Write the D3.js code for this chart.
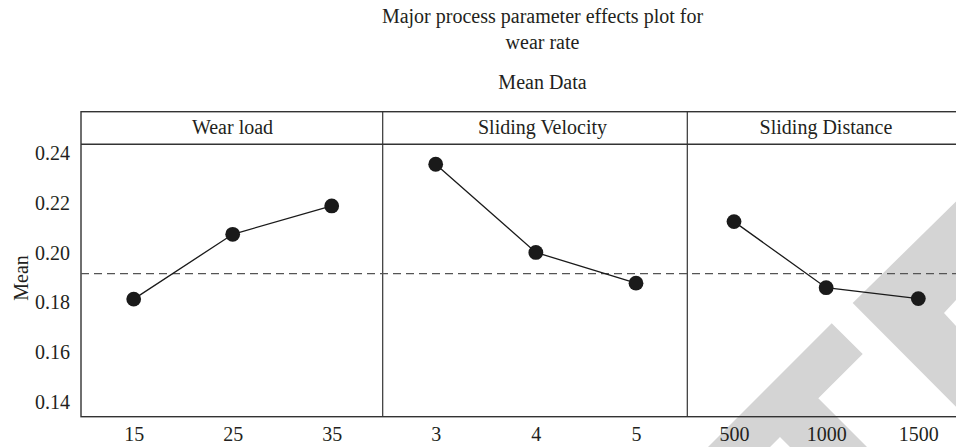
<!DOCTYPE html>
<html><head><meta charset="utf-8">
<script src="https://cdn.jsdelivr.net/npm/d3@7"></script>
<style>html,body{margin:0;padding:0;background:#fff;overflow:hidden}</style>
</head><body>
<svg id="chart" width="956" height="447"></svg>
<script>
// ---------------- data ----------------
const titleLines = ["Major process parameter effects plot for", "wear rate"];
const subtitle = "Mean Data";
const yLabel = "Mean";
const factors = ["Wear load", "Sliding Velocity", "Sliding Distance"];
const wearLoadLevels = ["15", "25", "35"];
const wearLoadMeans = [0.1813, 0.2074, 0.2188];
const velocityLevels = ["3", "4", "5"];
const velocityMeans = [0.2356, 0.2001, 0.1877];
const distanceLevels = ["500", "1000", "1500"];
const distanceMeans = [0.2125, 0.1859, 0.1815];
const grandMean = 0.1916;
const yTicks = [0.14, 0.16, 0.18, 0.20, 0.22, 0.24];

// ---------------- layout ----------------
const W = 956, H = 447;
const frameTop = 111.7, headerBottom = 144.3, plotBottom = 416.7;
const panelEdges = [81, 382.7, 687.3, 967];
const pointRanges = [[133.7, 331.7], [435.7, 636], [734, 918.3]];
const headerCenters = [232.5, 542.5, 826];
const font = "'Liberation Serif', 'Times New Roman', serif";
const ink = "#231f20";

const panels = [
  {name: factors[0], levels: wearLoadLevels, means: wearLoadMeans},
  {name: factors[1], levels: velocityLevels, means: velocityMeans},
  {name: factors[2], levels: distanceLevels, means: distanceMeans}
];

const svg = d3.select("#chart");
svg.append("rect").attr("width", W).attr("height", H).attr("fill", "#fff");

// watermark (decorative, drawn beneath)
const wm = svg.append("g").attr("fill", "#d4d4d4");
wm.append("polygon").attr("points",
  [[956,201.5],[852.7,303],[956,406.7],[956,326],[944,313],[956,300]].map(p => p.join(",")).join(" "));
wm.append("polygon").attr("points",
  [[831.7,323.3],[862.7,354],[818.3,398.3],[867,447],[790,447],[780,437],[770,447],[708,447]].map(p => p.join(",")).join(" "));

// y scale
const y = d3.scaleLinear().domain([0.14, 0.24]).range([401.7, 153.3]);

// titles
const tg = svg.append("g").attr("font-family", font).attr("font-size", 20)
  .attr("fill", ink).attr("text-anchor", "middle");
tg.append("text").attr("x", 542.5).attr("y", 23).text(titleLines[0]);
tg.append("text").attr("x", 542.5).attr("y", 48.5).text(titleLines[1]);
tg.append("text").attr("x", 542.5).attr("y", 89).text(subtitle);

// frame
const fr = svg.append("g").attr("stroke", "#333").attr("fill", "none").attr("stroke-width", 1.4);
fr.append("rect").attr("x", panelEdges[0]).attr("y", frameTop)
  .attr("width", panelEdges[3] - panelEdges[0]).attr("height", plotBottom - frameTop);
fr.append("line").attr("x1", panelEdges[0]).attr("x2", panelEdges[3])
  .attr("y1", headerBottom).attr("y2", headerBottom);
[1, 2].forEach(i => fr.append("line").attr("x1", panelEdges[i]).attr("x2", panelEdges[i])
  .attr("y1", frameTop).attr("y2", plotBottom).attr("stroke-width", 1.2));

// reference line (grand mean)
svg.append("line").attr("x1", panelEdges[0]).attr("x2", panelEdges[3])
  .attr("y1", y(grandMean)).attr("y2", y(grandMean))
  .attr("stroke", "#555").attr("stroke-width", 1.3).attr("stroke-dasharray", "8,5");

// y axis
const yAxis = svg.append("g").attr("transform", `translate(${panelEdges[0]},0)`)
  .call(d3.axisLeft(y).tickValues(yTicks).tickSize(0).tickPadding(11).tickFormat(d3.format(".2f")));
yAxis.select(".domain").remove();
yAxis.selectAll("text").attr("font-family", font).attr("font-size", 20).attr("fill", ink);

svg.append("text").attr("transform", "translate(28,278) rotate(-90)")
  .attr("text-anchor", "middle").attr("font-family", font).attr("font-size", 20)
  .attr("fill", ink).text(yLabel);

// panels
panels.forEach((p, i) => {
  const x = d3.scalePoint().domain(p.levels).range(pointRanges[i]);
  const data = p.levels.map((l, k) => ({level: l, mean: p.means[k]}));

  svg.append("text").attr("x", headerCenters[i]).attr("y", 134.3)
    .attr("text-anchor", "middle").attr("font-family", font).attr("font-size", 20)
    .attr("fill", ink).text(p.name);

  const xa = svg.append("g").attr("transform", `translate(0,${plotBottom})`)
    .call(d3.axisBottom(x).tickSize(0).tickPadding(10));
  xa.select(".domain").remove();
  xa.selectAll("text").attr("font-family", font).attr("font-size", 20).attr("fill", ink);

  svg.append("path").datum(data)
    .attr("fill", "none").attr("stroke", "#1a1a1a").attr("stroke-width", 1.3)
    .attr("d", d3.line().x(d => x(d.level)).y(d => y(d.mean)));

  svg.append("g").selectAll("circle").data(data).join("circle")
    .attr("cx", d => x(d.level)).attr("cy", d => y(d.mean)).attr("r", 7.4)
    .attr("fill", "#1a1a1a");
});
</script>
</body></html>
